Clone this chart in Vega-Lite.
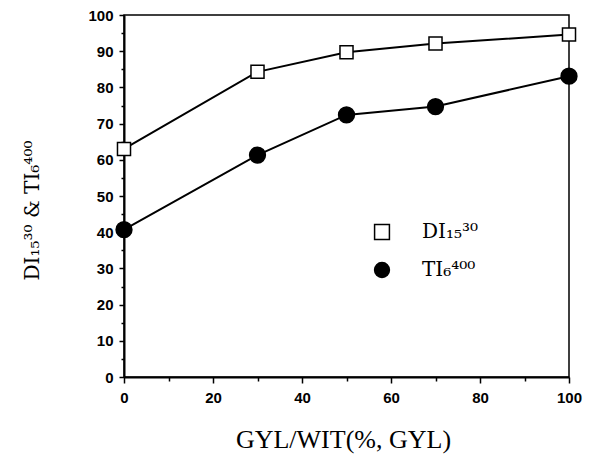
{
  "$schema": "https://vega.github.io/schema/vega-lite/v6.json",
  "autosize": {"type": "none"},
  "padding": {"left": 124, "top": 15, "right": 24, "bottom": 77},
  "width": 445,
  "height": 362,
  "background": "white",
  "config": {
    "view": {"stroke": "black", "strokeWidth": 1.5},
    "axis": {
      "domainColor": "black", "domainWidth": 2, "tickColor": "black", "tickWidth": 1.5,
      "labelFont": "Liberation Sans", "labelFontWeight": "bold", "labelFontSize": 15, "labelColor": "black",
      "titleFont": "DejaVu Serif", "titleFontWeight": "normal", "titleColor": "black",
      "grid": false
    }
  },
  "data": {
    "values": [
      {"x": 0, "value": 63.0, "series": "DI"},
      {"x": 30, "value": 84.3, "series": "DI"},
      {"x": 50, "value": 89.7, "series": "DI"},
      {"x": 70, "value": 92.1, "series": "DI"},
      {"x": 100, "value": 94.6, "series": "DI"},
      {"x": 0, "value": 40.7, "series": "TI"},
      {"x": 30, "value": 61.3, "series": "TI"},
      {"x": 50, "value": 72.4, "series": "TI"},
      {"x": 70, "value": 74.7, "series": "TI"},
      {"x": 100, "value": 83.1, "series": "TI"}
    ]
  },
  "encoding": {
    "x": {
      "field": "x", "type": "quantitative",
      "scale": {"domain": [0, 100], "nice": false, "zero": false},
      "axis": {
        "values": [0, 10, 20, 30, 40, 50, 60, 70, 80, 90, 100],
        "labelExpr": "datum.value % 20 === 0 ? datum.label : ''",
        "tickSize": {"condition": {"test": "datum.value % 20 === 0", "value": 6}, "value": 4},
        "labelPadding": 7,
        "labelFlush": false,
        "title": "GYL/WIT(%, GYL)",
        "titleFont": "Liberation Serif",
        "titleFontSize": 26,
        "titleBaseline": "alphabetic",
        "titleX": 219,
        "titleY": 70
      }
    },
    "y": {
      "field": "value", "type": "quantitative",
      "scale": {"domain": [0, 100], "nice": false, "zero": false},
      "axis": {
        "values": [0, 5, 10, 15, 20, 25, 30, 35, 40, 45, 50, 55, 60, 65, 70, 75, 80, 85, 90, 95, 100],
        "labelExpr": "datum.value % 10 === 0 ? datum.label : ''",
        "tickSize": {"condition": {"test": "datum.value % 10 === 0", "value": 5}, "value": 3},
        "labelPadding": 6,
        "labelFlush": false,
        "title": "DI₁₅³⁰   &   TI₆⁴⁰⁰",
        "titleFontSize": 20,
        "titleAngle": -90,
        "titleBaseline": "alphabetic",
        "titleX": -86,
        "titleY": 195
      }
    }
  },
  "layer": [
    {
      "mark": {"type": "line", "color": "black", "strokeWidth": 2, "clip": false},
      "encoding": {"detail": {"field": "series"}}
    },
    {
      "mark": {"type": "point", "filled": true, "stroke": "black", "strokeWidth": 1.5, "opacity": 1, "clip": false},
      "encoding": {
        "shape": {
          "field": "series", "type": "nominal",
          "scale": {"domain": ["DI", "TI"], "range": ["square", "circle"]},
          "legend": {
            "title": null,
            "orient": "none",
            "legendX": 248,
            "legendY": 207,
            "symbolSize": 220,
            "rowPadding": 16,
            "labelOffset": 30,
            "labelFont": "DejaVu Serif",
            "labelFontSize": 20,
            "labelColor": "black",
            "labelExpr": "datum.value === 'DI' ? 'DI₁₅³⁰' : 'TI₆⁴⁰⁰'",
            "encode": {
              "symbols": {
                "fillOpacity": {"value": 1},
                "stroke": {"value": "black"},
                "strokeWidth": {"value": 1.5},
                "opacity": {"value": 1}
              }
            }
          }
        },
        "fill": {
          "field": "series", "type": "nominal",
          "scale": {"domain": ["DI", "TI"], "range": ["white", "black"]},
          "legend": {
            "title": null,
            "orient": "none",
            "legendX": 248,
            "legendY": 207,
            "symbolSize": 220,
            "rowPadding": 16,
            "labelOffset": 30,
            "labelFont": "DejaVu Serif",
            "labelFontSize": 20,
            "labelColor": "black",
            "labelExpr": "datum.value === 'DI' ? 'DI₁₅³⁰' : 'TI₆⁴⁰⁰'",
            "encode": {
              "symbols": {
                "fillOpacity": {"value": 1},
                "stroke": {"value": "black"},
                "strokeWidth": {"value": 1.5},
                "opacity": {"value": 1}
              }
            }
          }
        },
        "size": {"condition": {"test": "datum.series === 'TI'", "value": 250}, "value": 170}
      }
    }
  ]
}
